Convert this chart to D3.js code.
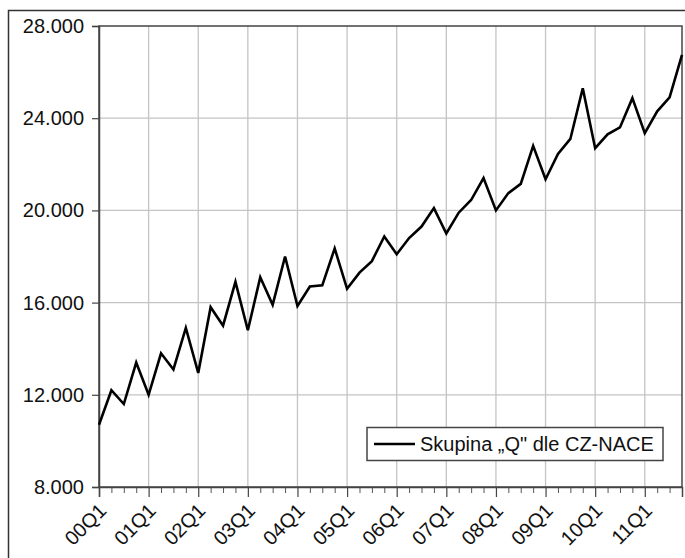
<!DOCTYPE html>
<html><head><meta charset="utf-8">
<script src="https://cdn.jsdelivr.net/npm/d3@7"></script>
<style>
html,body{margin:0;padding:0;background:#fff;}
svg{display:block;font-family:"Liberation Sans",Arial,sans-serif;}
</style></head>
<body>
<svg id="c" width="685" height="558"></svg>
<script>
const years = ["00","01","02","03","04","05","06","07","08","09","10","11"];
const quarters = years.flatMap(y => ["Q1","Q2","Q3","Q4"].map(q => y + q));
const values = [
  10700, 12200, 11600, 13400,
  12000, 13800, 13100, 14900,
  12950, 15800, 15000, 16900,
  14800, 17100, 15900, 18000,
  15850, 16700, 16750, 18350,
  16600, 17300, 17800, 18870,
  18100, 18800, 19300, 20100,
  19000, 19900, 20450, 21400,
  20000, 20750, 21150, 22800,
  21350, 22450, 23100, 25300,
  22700, 23300, 23600, 24870,
  23350, 24300, 24900, 26750
];
const yTicks = [8000, 12000, 16000, 20000, 24000, 28000];
const seriesName = "Skupina \u201EQ\" dle CZ-NACE";

const svg = d3.select("#c");
const L = 99, R = 682, T = 26, B = 487;
const x = d3.scaleLinear().domain([0, quarters.length - 1]).range([L, R]);
const y = d3.scaleLinear().domain([8000, 28000]).range([B, T]);
const fmt = d3.formatLocale({decimal: ",", thousands: ".", grouping: [3], currency: ["", ""]}).format(",");

// outer frame
svg.append("rect").attr("x", 8.5).attr("y", 10.5).attr("width", 700).attr("height", 600)
  .attr("fill", "#fff").attr("stroke", "#333").attr("stroke-width", 1.5);

// grid
const majorIdx = quarters.map((q, i) => i).filter(i => quarters[i].endsWith("Q1"));
svg.append("g").selectAll("line").data(majorIdx.filter(i => i > 0)).join("line")
  .attr("x1", d => x(d)).attr("x2", d => x(d)).attr("y1", T).attr("y2", B)
  .attr("stroke", "#c4c4c4").attr("stroke-width", 1.3);
svg.append("g").selectAll("line").data(yTicks.filter(v => v > 8000 && v < 28000)).join("line")
  .attr("x1", L).attr("x2", R).attr("y1", d => y(d)).attr("y2", d => y(d))
  .attr("stroke", "#c4c4c4").attr("stroke-width", 1.3);

// plot border
svg.append("rect").attr("x", L).attr("y", T).attr("width", R - L).attr("height", B - T)
  .attr("fill", "none").attr("stroke", "#444").attr("stroke-width", 1.5);

// y axis
const yAxis = d3.axisLeft(y).tickValues(yTicks).tickFormat(fmt).tickSize(7).tickPadding(8);
const gy = svg.append("g").attr("transform", `translate(${L},0)`).call(yAxis);
gy.select(".domain").attr("stroke", "#444").attr("stroke-width", 1.5);
gy.selectAll(".tick line").attr("stroke", "#444").attr("stroke-width", 1.2);
gy.selectAll(".tick text").attr("font-size", 20).attr("fill", "#111")
  .attr("font-family", "Liberation Sans, Arial, sans-serif");

// x axis: minor ticks
const xMinor = d3.axisBottom(x).tickValues(quarters.map((q, i) => i).filter(i => !quarters[i].endsWith("Q1")))
  .tickSize(6).tickFormat("");
const gxm = svg.append("g").attr("transform", `translate(0,${B})`).call(xMinor);
gxm.select(".domain").remove();
gxm.selectAll(".tick line").attr("stroke", "#555").attr("stroke-width", 1);

const xAxis = d3.axisBottom(x).tickValues(majorIdx).tickFormat(i => quarters[i]).tickSize(10);
const gx = svg.append("g").attr("transform", `translate(0,${B})`).call(xAxis);
gx.select(".domain").attr("stroke", "#444").attr("stroke-width", 1.5);
gx.selectAll(".tick line").attr("stroke", "#444").attr("stroke-width", 1.2);
gx.selectAll(".tick text")
  .attr("font-size", 20).attr("fill", "#111")
  .attr("font-family", "Liberation Sans, Arial, sans-serif")
  .attr("text-anchor", "end").attr("dy", 0).attr("y", 0)
  .attr("transform", "translate(8,25) rotate(-45)");

// line
const line = d3.line().x((d, i) => x(i)).y(d => y(d));
svg.append("path").datum(values).attr("d", line)
  .attr("fill", "none").attr("stroke", "#000").attr("stroke-width", 2.6)
  .attr("stroke-linejoin", "miter");

// legend
const lg = svg.append("g");
lg.append("rect").attr("x", 367).attr("y", 427.5).attr("width", 296).attr("height", 33)
  .attr("fill", "#fff").attr("stroke", "#444").attr("stroke-width", 1.5);
lg.append("line").attr("x1", 374).attr("x2", 415).attr("y1", 444).attr("y2", 444)
  .attr("stroke", "#000").attr("stroke-width", 2.6);
lg.append("text").attr("x", 420).attr("y", 451).attr("font-size", 20).attr("fill", "#111")
  .text(seriesName);
</script>
</body></html>
